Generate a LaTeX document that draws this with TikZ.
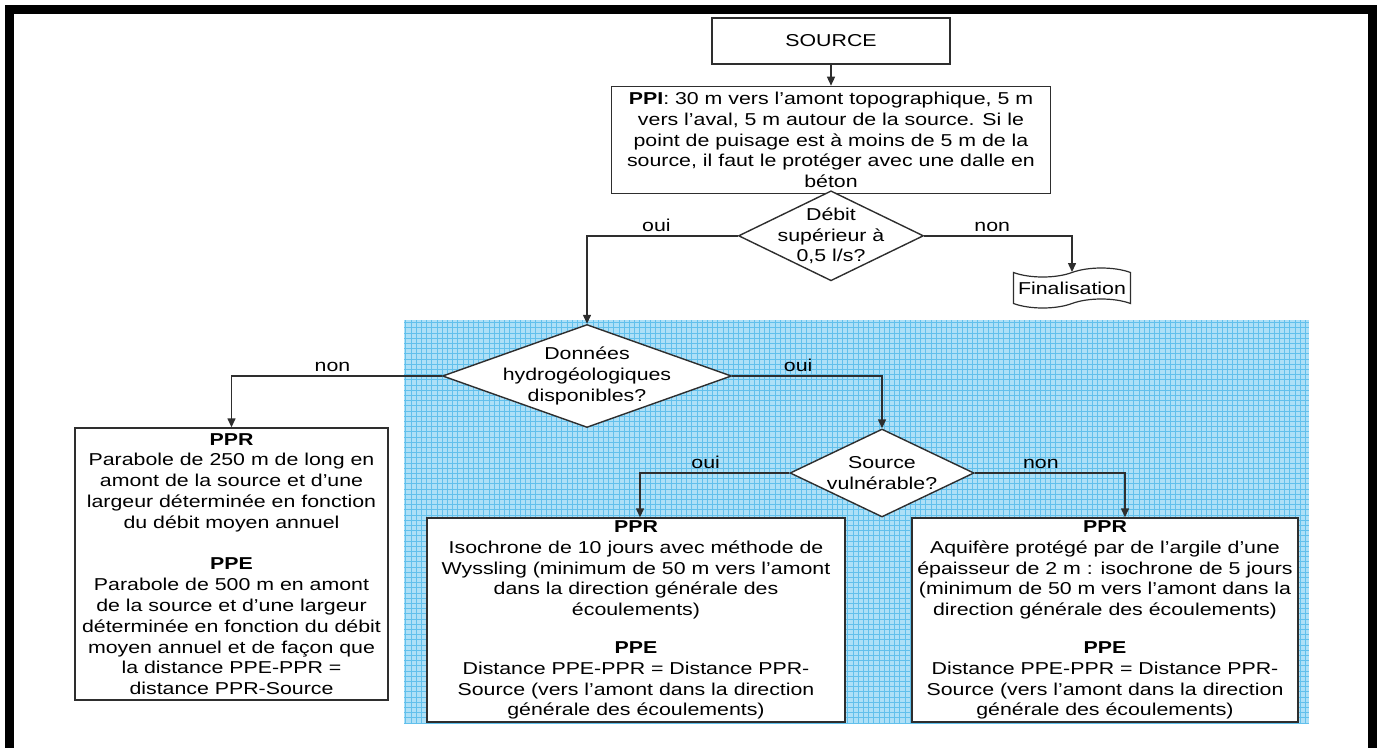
\documentclass[tikz,border=0pt]{standalone}
\usepackage{fontspec}
\setmainfont{Liberation Sans}[FakeStretch=1.24]
\usepackage{tikz}
\usetikzlibrary{arrows.meta,positioning,shapes.geometric,shapes.symbols}
\definecolor{skyfill}{HTML}{AEE0F7}
\definecolor{skygrid}{HTML}{62C0EC}
\definecolor{edge}{HTML}{2E2E2E}
\tikzset{
  every node/.append style={font=\fontsize{17.2pt}{20.8pt}\selectfont},
  infobox/.style={
    rectangle, draw=edge, fill=white, line width=1.4pt,
    align=center, inner sep=0pt
  },
  decision/.style={
    diamond, draw=edge, fill=white, line width=1.4pt,
    inner sep=0pt
  },
  qtext/.style={align=center},
  tapebox/.style={
    tape, draw=edge, fill=white, line width=1.2pt,
    tape bend height=9pt, inner sep=2pt
  },
  flowarrow/.style={
    draw=edge, line width=1.4pt, -{Triangle[length=9pt, width=8pt]}
  },
  branch/.style={above},
  zonegrid/.style={draw=skygrid, line width=0.6pt},
}
\begin{document}
\begin{tikzpicture}[x=1pt, y=-1pt]
  \useasboundingbox (0,0) rectangle (1383,747);

  % outer frame
  \draw[line width=9pt] (9.5,9) rectangle (1372,752);

  % shaded zone (hydrogeological data)
  \fill[skyfill] (404,320) rectangle (1309,724);
  \draw[zonegrid, step=5.2pt] (404,320) grid (1309,724);

  % top of the chart
  \node[infobox, minimum width=238pt, minimum height=46pt] (src) at (831,41) {SOURCE};
  \node[infobox, minimum width=439pt, minimum height=107pt, below=21pt of src] (ppi)
    {\textbf{PPI}: 30 m vers l'amont topographique, 5 m\\
     vers l'aval, 5 m autour de la source. Si le\\
     point de puisage est à moins de 5 m de la\\
     source, il faut le protéger avec une dalle en\\
     béton};
  \node[decision, minimum width=185pt, minimum height=90pt, below=-4pt of ppi,
    label={[qtext]center:{Débit\\supérieur à\\0,5 l/s?}}] (debit) {};
  \node[tapebox, minimum width=117pt, minimum height=40pt] (fin) at (1072,288) {Finalisation};

  % second level
  \node[decision, minimum width=289pt, minimum height=103pt,
    label={[qtext]center:{Données\\hydrogéologiques\\disponibles?}}] (donnees) at (587,376) {};
  \node[infobox, minimum width=313pt, minimum height=272pt] (pprA) at (231.5,564)
    {\textbf{PPR}\\
     Parabole de 250 m de long en\\
     amont de la source et d'une\\
     largeur déterminée en fonction\\
     du débit moyen annuel\\[20.8pt]
     \textbf{PPE}\\
     Parabole de 500 m en amont\\
     de la source et d'une largeur\\
     déterminée en fonction du débit\\
     moyen annuel et de façon que\\
     la distance PPE-PPR =\\
     distance PPR-Source};

  % third level
  \node[decision, minimum width=184pt, minimum height=88pt,
    label={[qtext]center:{Source\\vulnérable?}}] (vuln) at (882,473) {};
  \node[infobox, minimum width=418pt, minimum height=204pt] (pprB) at (636,620)
    {\textbf{PPR}\\
     Isochrone de 10 jours avec méthode de\\
     Wyssling (minimum de 50 m vers l'amont\\
     dans la direction générale des\\
     écoulements)\\[17pt]
     \textbf{PPE}\\
     Distance PPE-PPR = Distance PPR-\\
     Source (vers l'amont dans la direction\\
     générale des écoulements)};
  \node[infobox, minimum width=386pt, minimum height=204pt] (pprC) at (1105,620)
    {\textbf{PPR}\\
     Aquifère protégé par de l'argile d'une\\
     épaisseur de 2 m : isochrone de 5 jours\\
     (minimum de 50 m vers l'amont dans la\\
     direction générale des écoulements)\\[17pt]
     \textbf{PPE}\\
     Distance PPE-PPR = Distance PPR-\\
     Source (vers l'amont dans la direction\\
     générale des écoulements)};

  % connectors
  \draw[flowarrow] (src) -- (ppi);
  \draw[flowarrow] (debit.west) -| node[branch, pos=.27] {oui} (donnees.north);
  \draw[flowarrow] (debit.east) -| node[branch, pos=.23] {non} (fin.north);
  \draw[flowarrow] (donnees.west) -| node[branch, pos=.26] {non} (pprA.north);
  \draw[flowarrow] (donnees.east) -| node[branch, pos=.22] {oui} (vuln.north);
  \draw[flowarrow] (vuln.west) -| node[branch, pos=.28] {oui} ([xshift=4pt]pprB.north);
  \draw[flowarrow] (vuln.east) -| node[branch, pos=.22] {non} ([xshift=20pt]pprC.north);

\end{tikzpicture}
\end{document}
